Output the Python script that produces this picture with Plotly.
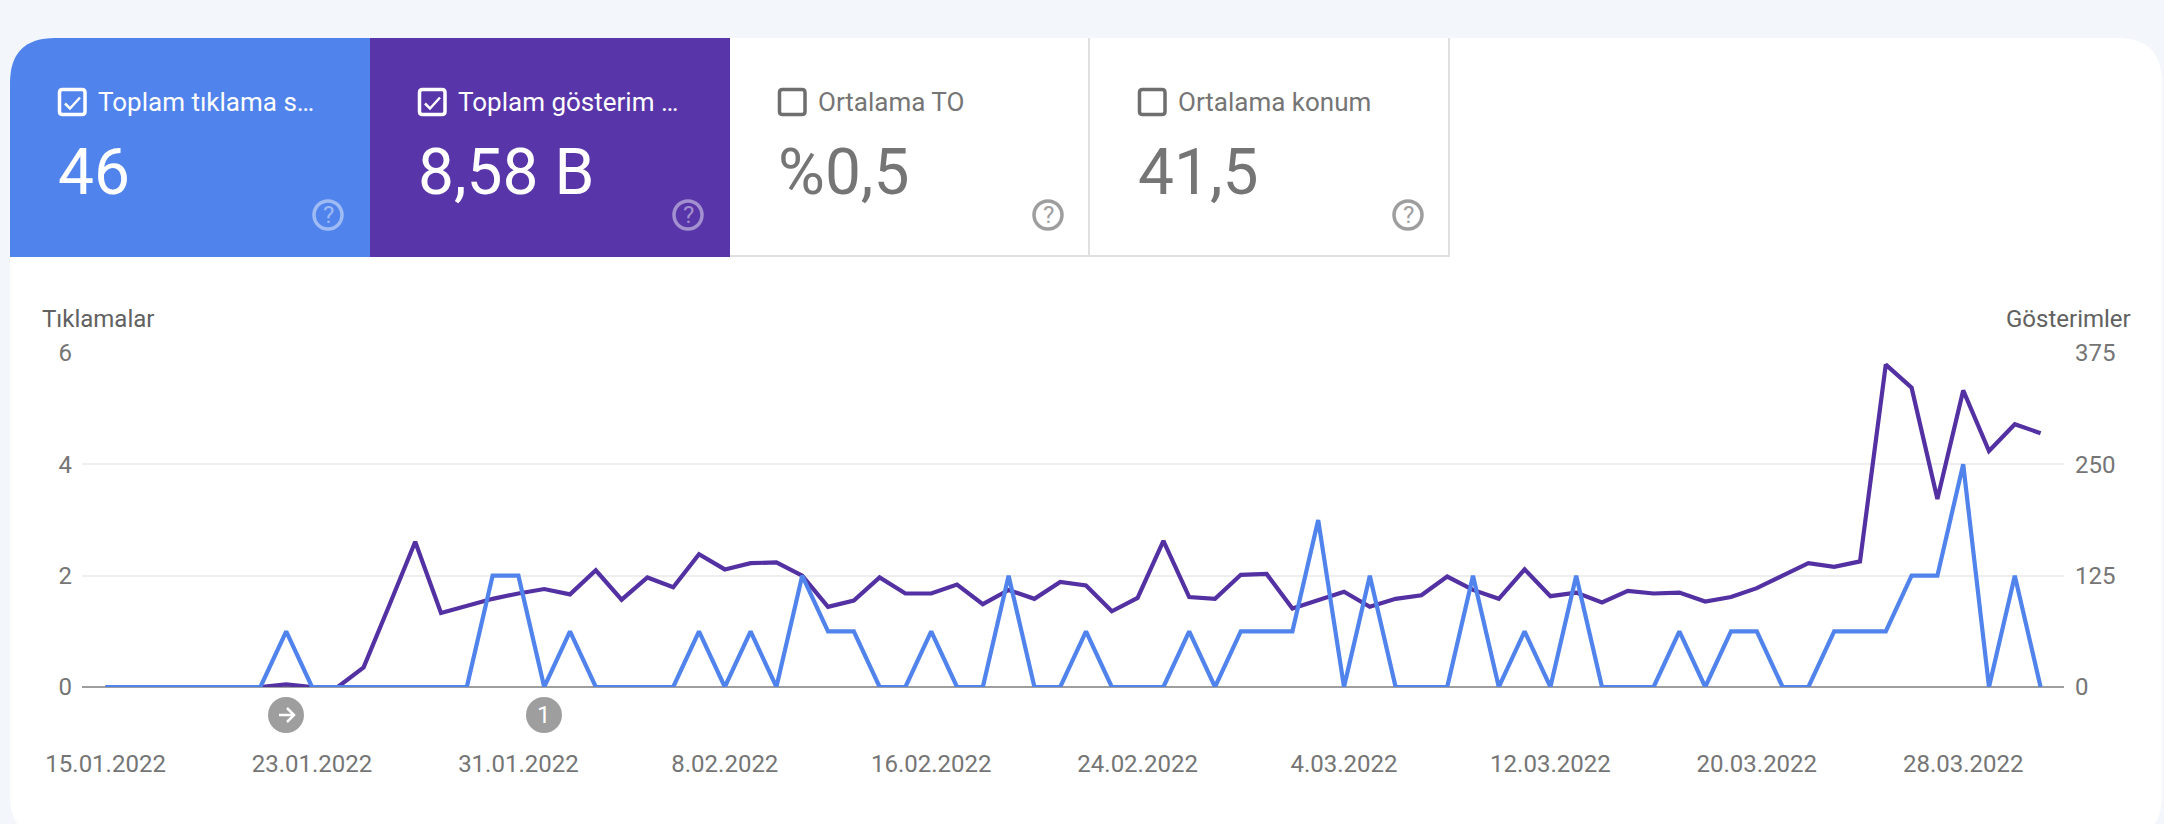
import pandas as pd
import plotly.graph_objects as go

W, H = 2164, 824

start_date = "2022-01-15"
clicks = [0, 0, 0, 0, 0, 0, 0, 1, 0, 0, 0, 0, 0, 0, 0, 2, 2, 0, 1, 0,
          0, 0, 0, 1, 0, 1, 0, 2, 1, 1, 0, 0, 1, 0, 0, 2, 0, 0, 1, 0,
          0, 0, 1, 0, 1, 1, 1, 3, 0, 2, 0, 0, 0, 2, 0, 1, 0, 2, 0, 0,
          0, 1, 0, 1, 1, 0, 0, 1, 1, 1, 2, 2, 4, 0, 2, 0]
impressions = [0, 0, 0, 0, 0, 0, 0, 3, 0, 0, 22, 92, 163, 83, 91, 99, 105, 110, 104, 131,
               98, 123, 112, 149, 132, 139, 140, 125, 90, 97, 123, 105, 105, 115, 93, 109, 99, 118, 114, 85,
               100, 164, 101, 99, 126, 127, 88, 97, 107, 90, 99, 103, 124, 109, 99, 132, 102, 106, 95, 108,
               105, 106, 96, 101, 111, 125, 139, 135, 141, 362, 336, 211, 333, 265, 295, 285]
dates = pd.date_range(start_date, periods=len(clicks), freq="D")

x_tick_labels = ["15.01.2022", "23.01.2022", "31.01.2022", "8.02.2022", "16.02.2022",
                 "24.02.2022", "4.03.2022", "12.03.2022", "20.03.2022", "28.03.2022"]
x_tick_dates = pd.date_range(start_date, periods=len(x_tick_labels), freq="8D")
click_ticks = [0, 2, 4, 6]
impression_ticks = [0, 125, 250, 375]

tab_titles = ["Toplam tıklama s…", "Toplam gösterim …", "Ortalama TO", "Ortalama konum"]
tab_values = ["46", "8,58 B", "%0,5", "41,5"]
tab_selected = [True, True, False, False]
tab_colors = ["#5083ec", "#5835a8", "#ffffff", "#ffffff"]

BG = "#f3f6fb"
BLUE = "#5083ec"
PURPLE = "#5331a3"
GREY_TEXT = "#757575"
BORDER = "#e0e0e0"
FONT = "Roboto"


# page pixels to paper coordinates
def px(x):
    return x / W


def py(y):
    return 1 - y / H


def rrect(x0, y0, x1, y1, r, corners="tl tr br bl"):
    tl = r if "tl" in corners else 0
    tr = r if "tr" in corners else 0
    br = r if "br" in corners else 0
    bl = r if "bl" in corners else 0
    return (f"M {px(x0 + tl)} {py(y0)} L {px(x1 - tr)} {py(y0)} "
            f"Q {px(x1)} {py(y0)} {px(x1)} {py(y0 + tr)} L {px(x1)} {py(y1 - br)} "
            f"Q {px(x1)} {py(y1)} {px(x1 - br)} {py(y1)} L {px(x0 + bl)} {py(y1)} "
            f"Q {px(x0)} {py(y1)} {px(x0)} {py(y1 - bl)} L {px(x0)} {py(y0 + tl)} "
            f"Q {px(x0)} {py(y0)} {px(x0 + tl)} {py(y0)} Z")


def polyline(points):
    return "M " + " L ".join(f"{px(x)} {py(y)}" for x, y in points)


def path_shape(path, fill=None, line=None, width=0, layer="above"):
    return dict(type="path", xref="paper", yref="paper", path=path, layer=layer,
                fillcolor=fill or "rgba(0,0,0,0)",
                line=dict(color=line or "rgba(0,0,0,0)", width=width))


def circle(cx, cy, r, fill=None, line=None, width=0):
    return dict(type="circle", xref="paper", yref="paper", layer="above",
                x0=px(cx - r), x1=px(cx + r), y0=py(cy + r), y1=py(cy - r),
                fillcolor=fill or "rgba(0,0,0,0)",
                line=dict(color=line or "rgba(0,0,0,0)", width=width))


def label(x, y, text, size, color, anchor="left"):
    return dict(xref="paper", yref="paper", x=px(x), y=py(y), text=text, showarrow=False,
                xanchor=anchor, yanchor="middle", borderpad=0,
                font=dict(family=FONT, size=size, color=color))


shapes = [path_shape(rrect(10, 38, 2162, 840, 45), fill="#ffffff", layer="below")]
annotations = []

for i, title in enumerate(tab_titles):
    left = 10 + i * 360
    selected = tab_selected[i]
    text_color = "#ffffff" if selected else GREY_TEXT
    box_color = "#ffffff" if selected else "#6e6e6e"
    if selected:
        shapes.append(path_shape(rrect(left, 38, left + 360, 257, 45, "tl" if i == 0 else ""),
                                 fill=tab_colors[i], layer="below"))
    else:
        shapes.append(path_shape(polyline([(left + 359, 38), (left + 359, 256), (left, 256)]),
                                 line=BORDER, width=2, layer="below"))
    # checkbox
    shapes.append(path_shape(rrect(left + 49.5, 89.5, left + 75, 114.5, 3), line=box_color, width=3.5))
    if selected:
        shapes.append(path_shape(polyline([(left + 55, 103.5), (left + 60, 108.5), (left + 70, 97.5)]),
                                 line="#ffffff", width=2.5))
    annotations.append(label(left + 87, 102, title, 26, text_color))
    annotations.append(label(left + 47, 172, tab_values[i], 64, text_color))
    # help icon
    icon_color = "rgba(255,255,255,0.45)" if selected else "#9e9e9e"
    shapes.append(circle(left + 318, 215, 14, line=icon_color, width=3.5))
    annotations.append(label(left + 318, 215, "?", 24, icon_color, anchor="center"))

annotations.append(label(41, 319, "Tıklamalar", 24, "#616161"))
annotations.append(label(2132, 319, "Gösterimler", 24, "#616161", anchor="right"))

# date markers under the axis
shapes.append(circle(286, 715, 18, fill="#9e9e9e"))
shapes.append(path_shape(polyline([(279, 715), (294, 715)]), line="#ffffff", width=2.5))
shapes.append(path_shape(polyline([(287, 708), (294, 715), (287, 722)]), line="#ffffff", width=2.5))
shapes.append(circle(544, 715, 18, fill="#9e9e9e"))
annotations.append(label(544, 715, "1", 24, "#ffffff", anchor="center"))

fig = go.Figure()
fig.add_trace(go.Scatter(x=dates, y=impressions, mode="lines", yaxis="y", cliponaxis=False,
                         name="Gösterimler", line=dict(color=PURPLE, width=4.2)))
fig.add_trace(go.Scatter(x=dates, y=clicks, mode="lines", yaxis="y2", cliponaxis=False,
                         name="Tıklamalar", line=dict(color=BLUE, width=4.2)))

tick_font = dict(family=FONT, size=24, color=GREY_TEXT)
fig.update_layout(
    width=W, height=H, margin=dict(l=0, r=0, t=0, b=0),
    paper_bgcolor=BG, plot_bgcolor="rgba(0,0,0,0)", showlegend=False,
    font=dict(family=FONT),
    shapes=shapes, annotations=annotations,
    xaxis=dict(domain=[px(82), px(2064)], type="date",
               range=["2022-01-14 02:02", "2022-03-31 21:46"],
               tickmode="array", tickvals=x_tick_dates, ticktext=x_tick_labels,
               tickfont=tick_font, ticks="", showgrid=False, showline=False,
               zeroline=False, ticklabelstandoff=60, automargin=False),
    yaxis=dict(domain=[py(687), py(353)], side="right", range=[0, 375],
               tickmode="array", tickvals=impression_ticks, tickfont=tick_font,
               ticks="", gridcolor="#eeeeee", gridwidth=2, zeroline=False,
               showline=False, ticklabelstandoff=10, automargin=False),
    yaxis2=dict(domain=[py(687), py(353)], side="left", overlaying="y", range=[0, 6],
                anchor="x", tickmode="array", tickvals=click_ticks, tickfont=tick_font,
                ticks="", showgrid=False, zeroline=True, zerolinecolor="#9e9e9e",
                zerolinewidth=2, showline=False, ticklabelstandoff=9, automargin=False),
)

fig.write_html("out.html", config=dict(displayModeBar=False),
               post_script="document.body.style.margin='0';document.body.style.overflow='hidden';"
                           f"document.body.style.background='{BG}';")
